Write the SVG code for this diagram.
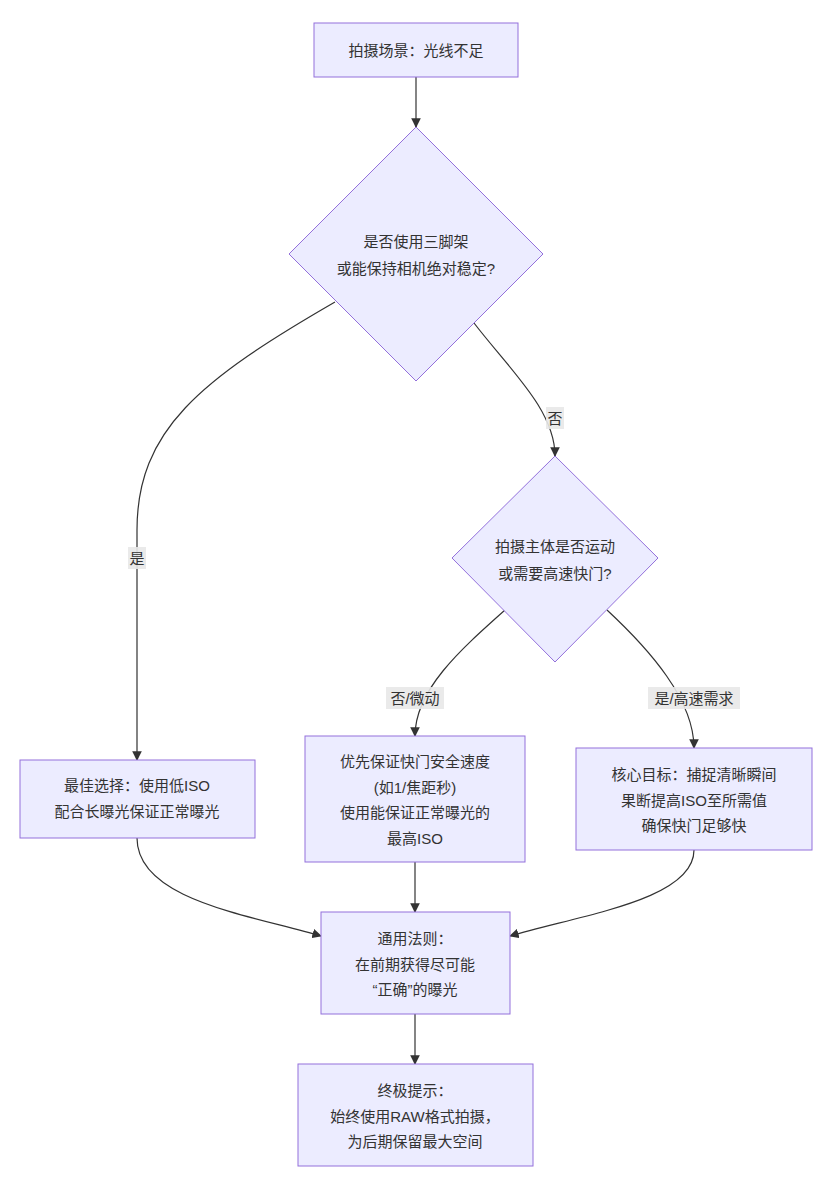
<svg xmlns="http://www.w3.org/2000/svg" width="836" height="1190" viewBox="0 0 836 1190">
<style>
.n{fill:#ECECFF;stroke:#9370DB;stroke-width:1}
.t{font-family:"Liberation Sans","Noto Sans CJK SC",sans-serif;font-size:15px;fill:#333;text-anchor:middle;dominant-baseline:central}
.e{fill:none;stroke:#333;stroke-width:1.2}
.lb{fill:#e8e8e8;opacity:0.9}
</style>
<defs><marker id="ar" viewBox="0 0 10 10" refX="9" refY="5" markerWidth="8" markerHeight="8" orient="auto"><path d="M0,0L10,5L0,10z" fill="#333"/></marker></defs>
<rect width="836" height="1190" fill="#fff"/>
<g id="connectors">
<path class="e" d="M416,77L416,127" marker-end="url(#ar)"/>
<path class="e" d="M335,302C200,380 137,430 137,530L137,760" marker-end="url(#ar)"/>
<path class="e" d="M474,323C510,370 555,410 555,456" marker-end="url(#ar)"/>
<path class="e" d="M505,610C460,650 415,690 415,736" marker-end="url(#ar)"/>
<path class="e" d="M607,610C650,650 694,700 694,748" marker-end="url(#ar)"/>
<path class="e" d="M137,838C137,900 250,915 321,936" marker-end="url(#ar)"/>
<path class="e" d="M415,862L415,912" marker-end="url(#ar)"/>
<path class="e" d="M694,850C694,900 580,915 510,936" marker-end="url(#ar)"/>
<path class="e" d="M415,1014L415,1064" marker-end="url(#ar)"/>
<rect class="lb" x="128" y="547" width="18" height="22"/><text class="t" x="137" y="558">是</text>
<rect class="lb" x="546" y="407" width="18" height="22"/><text class="t" x="555" y="418">否</text>
<rect class="lb" x="386" y="687" width="58" height="22"/><text class="t" x="415" y="698">否/微动</text>
<rect class="lb" x="648" y="687" width="92" height="22"/><text class="t" x="694" y="698">是/高速需求</text>
</g>
<g id="A"><rect class="n" x="314" y="23" width="204" height="54"/><text class="t" x="416" y="50">拍摄场景：光线不足</text></g>
<g id="B"><polygon class="n" points="416,127 543,254 416,381 289,254"/><text class="t" x="416" y="241">是否使用三脚架</text><text class="t" x="416" y="268">或能保持相机绝对稳定?</text></g>
<g id="C"><polygon class="n" points="555,456 658,558 555,662 452,558"/><text class="t" x="555" y="546">拍摄主体是否运动</text><text class="t" x="555" y="573">或需要高速快门?</text></g>
<g id="D"><rect class="n" x="20" y="760" width="235" height="78"/><text class="t" x="137" y="785">最佳选择：使用低ISO</text><text class="t" x="137" y="811">配合长曝光保证正常曝光</text></g>
<g id="E"><rect class="n" x="305" y="736" width="220" height="126"/><text class="t" x="415" y="761">优先保证快门安全速度</text><text class="t" x="415" y="787">(如1/焦距秒)</text><text class="t" x="415" y="812">使用能保证正常曝光的</text><text class="t" x="415" y="838">最高ISO</text></g>
<g id="F"><rect class="n" x="576" y="748" width="236" height="102"/><text class="t" x="694" y="774">核心目标：捕捉清晰瞬间</text><text class="t" x="694" y="800">果断提高ISO至所需值</text><text class="t" x="694" y="825">确保快门足够快</text></g>
<g id="G"><rect class="n" x="321" y="912" width="189" height="102"/><text class="t" x="415" y="938">通用法则：</text><text class="t" x="415" y="964">在前期获得尽可能</text><text class="t" x="415" y="989">“正确”的曝光</text></g>
<g id="H"><rect class="n" x="298" y="1064" width="235" height="102"/><text class="t" x="415" y="1090">终极提示：</text><text class="t" x="415" y="1116">始终使用RAW格式拍摄，</text><text class="t" x="415" y="1141">为后期保留最大空间</text></g>
</svg>
